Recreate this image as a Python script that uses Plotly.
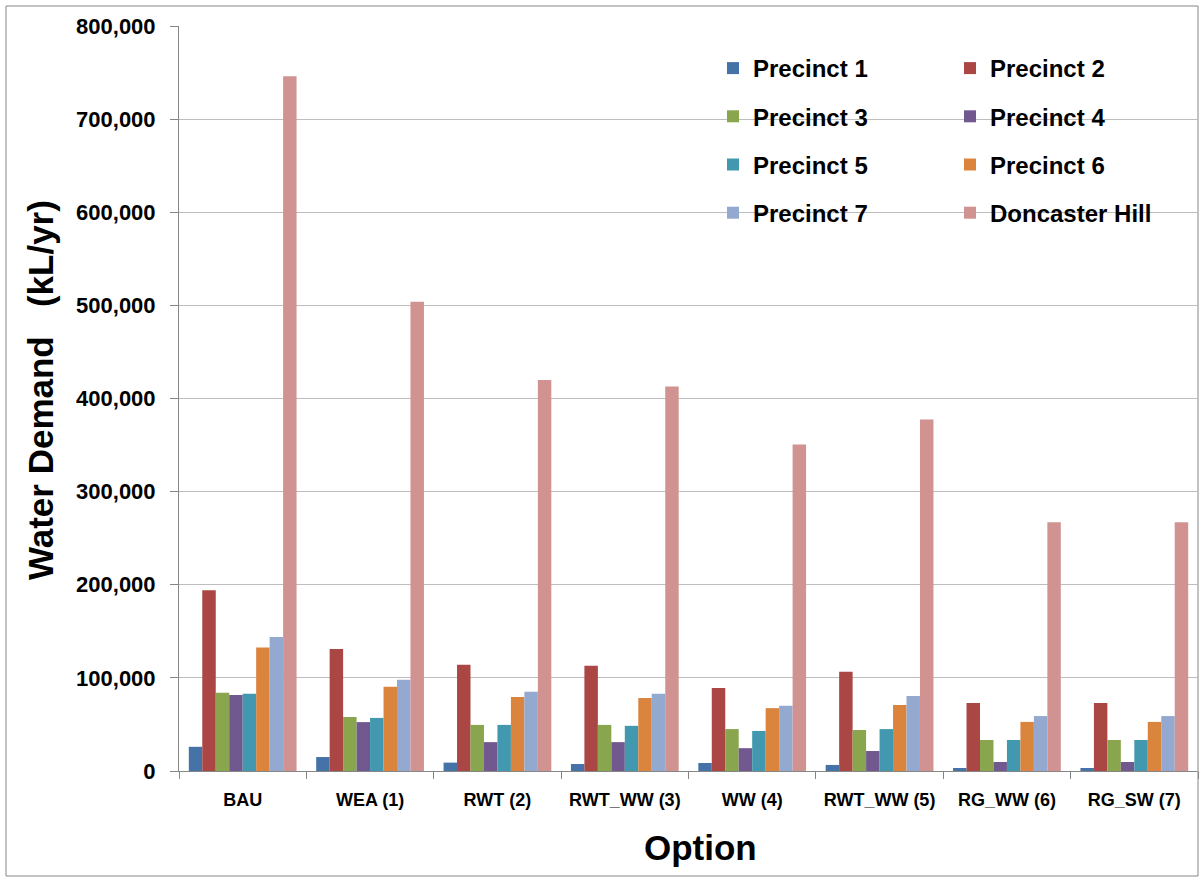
import plotly.graph_objects as go

# Options (x categories)
options = ["BAU", "WEA (1)", "RWT (2)", "RWT_WW (3)", "WW (4)",
           "RWT_WW (5)", "RG_WW (6)", "RG_SW (7)"]

# Annual water demand per area (kL/yr)
precinct_1 = [26000, 15000, 9000, 7500, 8600, 6500, 3200, 3200]
precinct_2 = [194000, 131000, 114000, 113000, 89000, 106500, 73000, 73000]
precinct_3 = [84000, 58000, 49500, 49500, 45000, 44000, 33300, 33300]
precinct_4 = [81500, 52500, 31000, 31000, 24500, 21500, 9700, 9700]
precinct_5 = [83000, 57000, 49500, 48500, 43000, 45000, 33300, 33300]
precinct_6 = [132500, 90500, 79500, 78500, 67500, 71000, 52700, 52700]
precinct_7 = [144000, 98000, 85000, 83000, 70000, 80500, 59000, 59000]
doncaster_hill = [746000, 504000, 420000, 413000, 350500, 377500, 267000, 267000]

series_names = ["Precinct 1", "Precinct 2", "Precinct 3", "Precinct 4",
                "Precinct 5", "Precinct 6", "Precinct 7", "Doncaster Hill"]
series_values = [precinct_1, precinct_2, precinct_3, precinct_4,
                 precinct_5, precinct_6, precinct_7, doncaster_hill]
series_colors = ["#4572A7", "#AA4643", "#89A54E", "#71588F",
                 "#4198AF", "#DB843D", "#93A9CF", "#D19392"]

y_ticks = [0, 100000, 200000, 300000, 400000, 500000, 600000, 700000, 800000]
y_tick_labels = ["0", "100,000", "200,000", "300,000", "400,000",
                 "500,000", "600,000", "700,000", "800,000"]

FONT = "Arial, Liberation Sans, sans-serif"
W, H = 1200, 877
ML, MR, MT, MB = 179, 2, 26, 106
pw, ph = W - ML - MR, H - MT - MB


def px_x(px):
    """Pixel column -> paper x."""
    return (px - ML) / pw


def px_y(py):
    """Pixel row -> paper y."""
    return 1 - (py - MT) / ph


fig = go.Figure()
for i, (name, vals, col) in enumerate(zip(series_names, series_values, series_colors)):
    fig.add_trace(go.Bar(
        x=options, y=vals, name=name,
        marker=dict(color=col, line=dict(width=0)),
        legend="legend" if i % 2 == 0 else "legend2",
        legendgroup=name,
    ))

legend_common = dict(
    font=dict(family=FONT, size=24, color="#000000", weight="bold"),
    bgcolor="rgba(0,0,0,0)",
    orientation="v",
    yanchor="top",
    xanchor="left",
    tracegroupgap=14,
    itemwidth=30,
)

fig.update_layout(
    width=W, height=H,
    margin=dict(l=ML, r=MR, t=MT, b=MB),
    paper_bgcolor="#ffffff",
    plot_bgcolor="#ffffff",
    barmode="group",
    bargap=0.154,
    bargroupgap=0,
    font=dict(family=FONT, color="#000000"),
    legend=dict(x=px_x(713), y=px_y(46), **legend_common),
    legend2=dict(x=px_x(950), y=px_y(46), **legend_common),
    xaxis=dict(
        type="category",
        tickson="boundaries",
        ticks="outside", ticklen=7, tickcolor="#868686",
        showline=True, linecolor="#868686", linewidth=1,
        showgrid=False,
        tickfont=dict(family=FONT, size=18, color="#000000", weight="bold"),
        ticklabelstandoff=12,
    ),
    yaxis=dict(
        range=[0, 800000],
        tickvals=y_ticks, ticktext=y_tick_labels,
        ticks="outside", ticklen=8, tickcolor="#868686",
        showline=True, linecolor="#868686", linewidth=1,
        showgrid=True, gridcolor="#bdbdbd", gridwidth=1,
        zeroline=False,
        tickfont=dict(family=FONT, size=22, color="#000000", weight="bold"),
        ticklabelstandoff=10,
    ),
)

# Axis titles
fig.add_annotation(
    text="Water Demand   (kL/yr)", textangle=-90,
    xref="paper", yref="paper", x=px_x(40), y=px_y(390),
    xanchor="center", yanchor="middle", showarrow=False,
    font=dict(family=FONT, size=35, color="#000000", weight="bold"),
)
fig.add_annotation(
    text="Option",
    xref="paper", yref="paper", x=px_x(700), y=px_y(848),
    xanchor="center", yanchor="middle", showarrow=False,
    font=dict(family=FONT, size=35, color="#000000", weight="bold"),
)

# Chart-area frame
fig.add_shape(
    type="rect", xref="paper", yref="paper", layer="below",
    x0=px_x(6), x1=px_x(1198), y0=px_y(876), y1=px_y(6),
    line=dict(color="#868686", width=1), fillcolor="rgba(0,0,0,0)",
)

fig.write_html("out.html")
